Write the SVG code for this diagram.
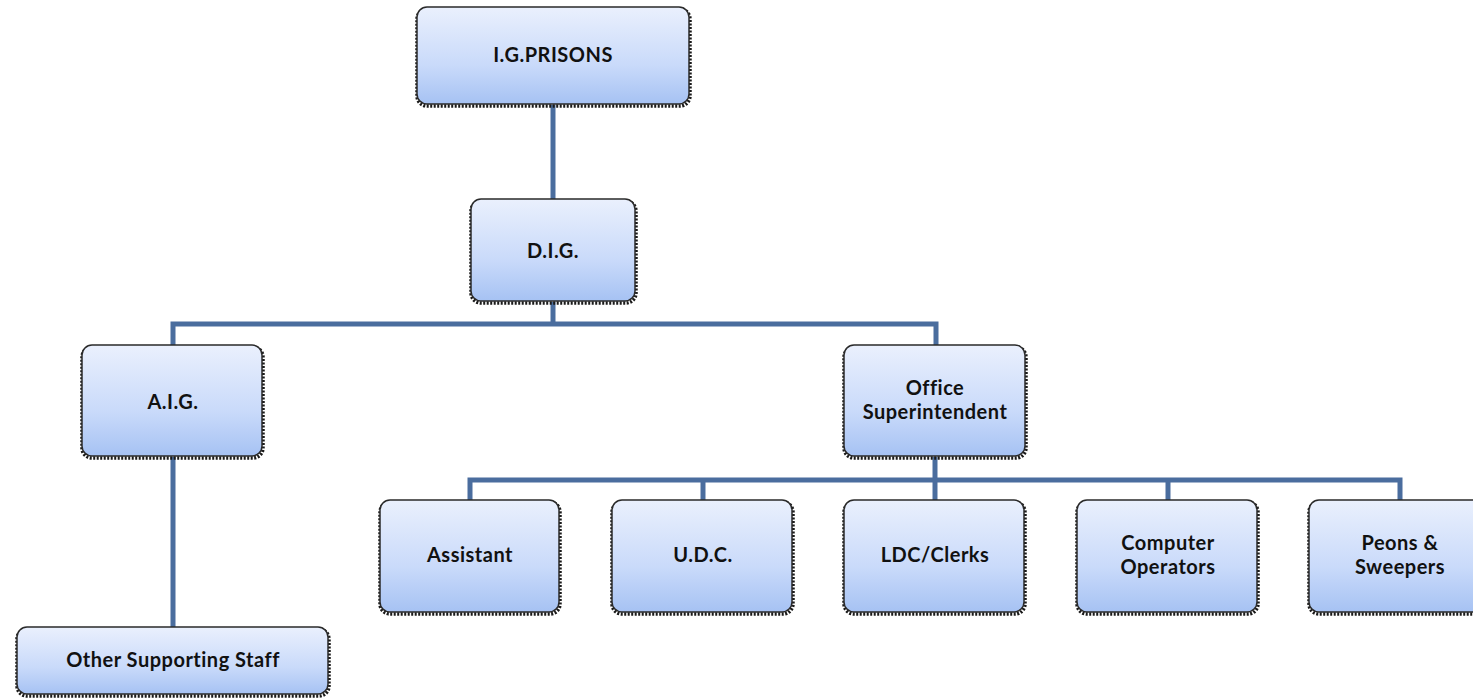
<svg xmlns="http://www.w3.org/2000/svg" width="1473" height="700" viewBox="0 0 1473 700">
<defs>
<linearGradient id="g" x1="0" y1="0" x2="0" y2="1">
<stop offset="0" stop-color="#eaf0fd"/>
<stop offset="0.6" stop-color="#c9dafa"/>
<stop offset="1" stop-color="#a6c2f3"/>
</linearGradient>
<style>
.sh{fill:none;stroke:#1a1a1a;stroke-width:3.5;stroke-dasharray:2 1.5}
.bx{fill:url(#g);stroke:#2a2a2a;stroke-width:1.5}
.t{font-family:Lato,"Open Sans","Liberation Sans",sans-serif;font-weight:bold;font-size:20px;letter-spacing:0.5px;fill:#111;text-anchor:middle}
.c{fill:none;stroke:#4a6d9e;stroke-width:5}
</style>
</defs>
<rect width="1473" height="700" fill="#fff"/>
<g id="connectors">
<line class="c" x1="553" y1="105" x2="553" y2="199"/>
<line class="c" x1="553" y1="302" x2="553" y2="324"/>
<polyline class="c" points="173,345 173,324 936,324 936,345"/>
<line class="c" x1="173" y1="457" x2="173" y2="627"/>
<line class="c" x1="935" y1="457" x2="935" y2="500"/>
<polyline class="c" points="470,500 470,480 1400,480 1400,500"/>
<line class="c" x1="703" y1="480" x2="703" y2="500"/>
<line class="c" x1="1168" y1="480" x2="1168" y2="500"/>
</g>
<g id="n-ig">
<rect class="sh" x="417" y="9" width="273" height="97" rx="10"/>
<rect class="bx" x="417" y="7" width="272" height="97" rx="10"/>
<text class="t" x="553" y="62">I.G.PRISONS</text>
</g>
<g id="n-dig">
<rect class="sh" x="471" y="201" width="165" height="102" rx="10"/>
<rect class="bx" x="471" y="199" width="164" height="102" rx="10"/>
<text class="t" x="553" y="258">D.I.G.</text>
</g>
<g id="n-aig">
<rect class="sh" x="82" y="347" width="181" height="111" rx="10"/>
<rect class="bx" x="82" y="345" width="180" height="111" rx="10"/>
<text class="t" x="173" y="409">A.I.G.</text>
</g>
<g id="n-os">
<rect class="sh" x="844" y="347" width="182" height="111" rx="10"/>
<rect class="bx" x="844" y="345" width="181" height="111" rx="10"/>
<text class="t" x="935" y="395">Office</text>
<text class="t" x="935" y="419">Superintendent</text>
</g>
<g id="n-oss">
<rect class="sh" x="17" y="629" width="312" height="67" rx="10"/>
<rect class="bx" x="17" y="627" width="311" height="67" rx="10"/>
<text class="t" x="173" y="667">Other Supporting Staff</text>
</g>
<g id="n-asst">
<rect class="sh" x="380" y="502" width="180" height="112" rx="10"/>
<rect class="bx" x="380" y="500" width="179" height="112" rx="10"/>
<text class="t" x="470" y="562">Assistant</text>
</g>
<g id="n-udc">
<rect class="sh" x="612" y="502" width="181" height="112" rx="10"/>
<rect class="bx" x="612" y="500" width="180" height="112" rx="10"/>
<text class="t" x="703" y="562">U.D.C.</text>
</g>
<g id="n-ldc">
<rect class="sh" x="844" y="502" width="181" height="112" rx="10"/>
<rect class="bx" x="844" y="500" width="180" height="112" rx="10"/>
<text class="t" x="935" y="562">LDC/Clerks</text>
</g>
<g id="n-co">
<rect class="sh" x="1077" y="502" width="181" height="112" rx="10"/>
<rect class="bx" x="1077" y="500" width="180" height="112" rx="10"/>
<text class="t" x="1168" y="550">Computer</text>
<text class="t" x="1168" y="574">Operators</text>
</g>
<g id="n-ps">
<rect class="sh" x="1309" y="502" width="175" height="112" rx="10"/>
<rect class="bx" x="1309" y="500" width="174" height="112" rx="10"/>
<text class="t" x="1400" y="550">Peons &amp;</text>
<text class="t" x="1400" y="574">Sweepers</text>
</g>
</svg>
